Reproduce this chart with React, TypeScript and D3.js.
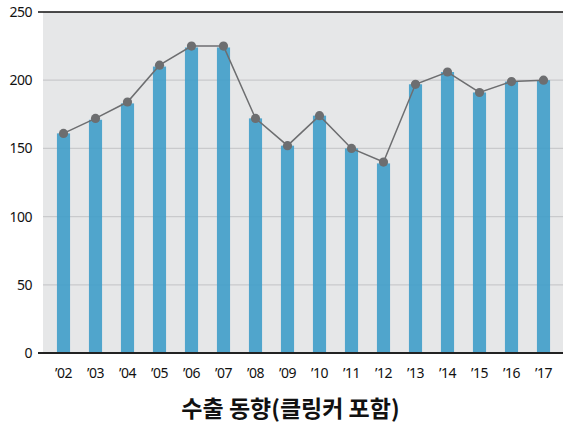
import React from "react";
import * as d3 from "d3";

const years = ["’02","’03","’04","’05","’06","’07","’08","’09","’10","’11","’12","’13","’14","’15","’16","’17"];
const barValues = [161, 171, 183, 210, 224, 224, 172, 152, 174, 150, 139, 197, 206, 191, 199, 200];
const lineValues = [161, 172, 184, 211, 225, 225, 172, 152, 174, 150, 140, 197, 206, 191, 199, 200];
const yTicks = [0, 50, 100, 150, 200, 250];
const title = "수출 동향(클링커 포함)";

export default function App() {
  const W = 563, H = 427;
  const x = d3.scaleBand<string>().domain(years).range([47.5, 559.5]).paddingInner(0.59).paddingOuter(0.295);
  const y = d3.scaleLinear().domain([0, 250]).range([353, 12]);
  const cx = (i: number) => (x(years[i]) as number) + x.bandwidth() / 2;
  const line = d3.line<number>().x((_, i) => cx(i)).y((d) => y(d));
  const font = "'Noto Sans', 'Open Sans', sans-serif";
  return (
    <svg width={W} height={H} style={{ position: "absolute", left: 0, top: 0 }}>
      <rect x={43} y={12} width={W - 43} height={353 - 12} fill="#e6e7e8" />
      {yTicks.filter((t) => t > 0 && t < 250).map((t) => (
        <line key={t} x1={43} x2={W} y1={y(t)} y2={y(t)} stroke="#c9cacc" strokeWidth={1.3} />
      ))}
      {barValues.map((v, i) => (
        <rect key={i} x={x(years[i])} y={y(v)} width={x.bandwidth()} height={y(0) - y(v)} fill="#3f9dc9" fillOpacity={0.9} />
      ))}
      <line x1={38} x2={W} y1={12} y2={12} stroke="#111" strokeWidth={1.5} />
      <line x1={38} x2={W} y1={353} y2={353} stroke="#222" strokeWidth={2} />
      <path d={line(lineValues) || ""} fill="none" stroke="#6d6e70" strokeWidth={1.5} />
      {lineValues.map((v, i) => (
        <circle key={i} cx={cx(i)} cy={y(v)} r={4.6} fill="#6d6e70" />
      ))}
      {yTicks.map((t) => (
        <text key={t} x={32} y={y(t)} dy="0.35em" textAnchor="end" fontSize={14} fontFamily={font} fill="#111" letterSpacing={-0.5}>{t}</text>
      ))}
      {years.map((yr, i) => (
        <text key={yr} x={cx(i)} y={373} dy="0.35em" textAnchor="middle" fontSize={14} fontFamily={font} fill="#111" letterSpacing={-0.5}>{yr}</text>
      ))}
      <text x={290.5} y={409} dy="0.35em" textAnchor="middle" fontSize={23} fontWeight="bold" fontFamily="'Noto Sans CJK KR', sans-serif" fill="#111">{title}</text>
    </svg>
  );
}
